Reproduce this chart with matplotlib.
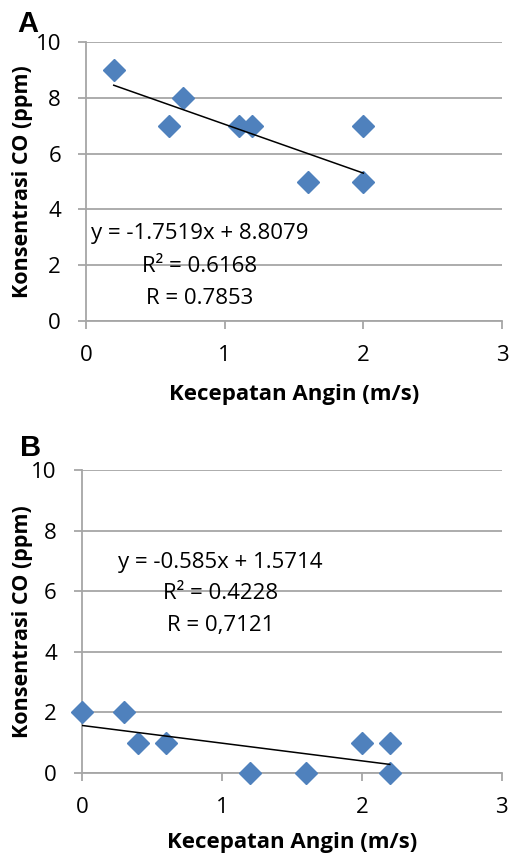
import matplotlib.pyplot as plt
import numpy as np

plt.rcParams['font.family'] = ['Open Sans', 'DejaVu Sans']

# panel A data
a_x = [0.2, 0.6, 0.7, 1.1, 1.2, 1.6, 2.0, 2.0]
a_y = [9, 7, 8, 7, 7, 5, 7, 5]
a_slope, a_icpt = -1.7519, 8.8079
a_text = ['y = -1.7519x + 8.8079', 'R² = 0.6168', 'R = 0.7853']

# panel B data
b_x = [0.0, 0.3, 0.4, 0.6, 1.2, 1.6, 2.0, 2.2, 2.2]
b_y = [2, 2, 1, 1, 0, 0, 1, 1, 0]
b_slope, b_icpt = -0.585, 1.5714
b_text = ['y = -0.585x + 1.5714', 'R² = 0.4228', 'R = 0,7121']

grid_col = '#a6a6a6'
marker_col = '#4f81bd'

fig = plt.figure(figsize=(5.12, 8.55), dpi=100)
ax_a = fig.add_axes([0.168, 0.6246, 0.8125, 0.326])
ax_b = fig.add_axes([0.160, 0.0959, 0.820, 0.354])


def draw(ax, xs, ys, slope, icpt, lines, text_pos, letter, letter_pos, ylab_x, xlab_y):
    ax.set_xlim(0, 3)
    ax.set_ylim(0, 10)
    ax.set_xticks([0, 1, 2, 3])
    ax.set_yticks([0, 2, 4, 6, 8, 10])
    ax.grid(axis='y', color=grid_col, linewidth=1.3)
    ax.set_axisbelow(True)
    for s in ['top', 'right']:
        ax.spines[s].set_visible(False)
    for s in ['left', 'bottom']:
        ax.spines[s].set_color(grid_col)
        ax.spines[s].set_linewidth(1.3)
    ax.tick_params(axis='both', colors=grid_col, labelcolor='black', labelsize=16,
                   length=6, width=1.3, direction='out')
    ax.tick_params(axis='x', pad=11)
    ax.tick_params(axis='y', pad=12)
    ax.plot(xs, ys, 'D', color=marker_col, markersize=11.5, zorder=3, clip_on=False)
    fx = np.array([min(xs), max(xs)])
    ax.plot(fx, slope * fx + icpt, color='black', linewidth=1.1, zorder=4)
    for (tx, ty), t in zip(text_pos, lines):
        ax.text(tx, ty, t, ha='center', va='center', fontsize=16)
    ax.set_xlabel('Kecepatan Angin (m/s)', fontsize=16, fontweight='bold')
    ax.set_ylabel('Konsentrasi CO (ppm)', fontsize=15.5, fontweight='bold')
    ax.yaxis.set_label_coords(ylab_x, 0.5)
    ax.xaxis.set_label_coords(0.5, xlab_y)
    fig.text(letter_pos[0], letter_pos[1], letter, fontsize=21, fontweight='bold',
             family=['Liberation Sans', 'DejaVu Sans'], va='center', ha='center')


draw(ax_a, a_x, a_y, a_slope, a_icpt, a_text,
     [(0.82, 3.15), (0.82, 1.94), (0.82, 0.82)], 'A', (0.055, 0.972), -0.127, -0.225)
draw(ax_b, b_x, b_y, b_slope, b_icpt, b_text,
     [(0.99, 6.96), (0.99, 5.94), (0.99, 4.88)], 'B', (0.059, 0.476), -0.117, -0.195)

fig.savefig('out.png', dpi=100)
